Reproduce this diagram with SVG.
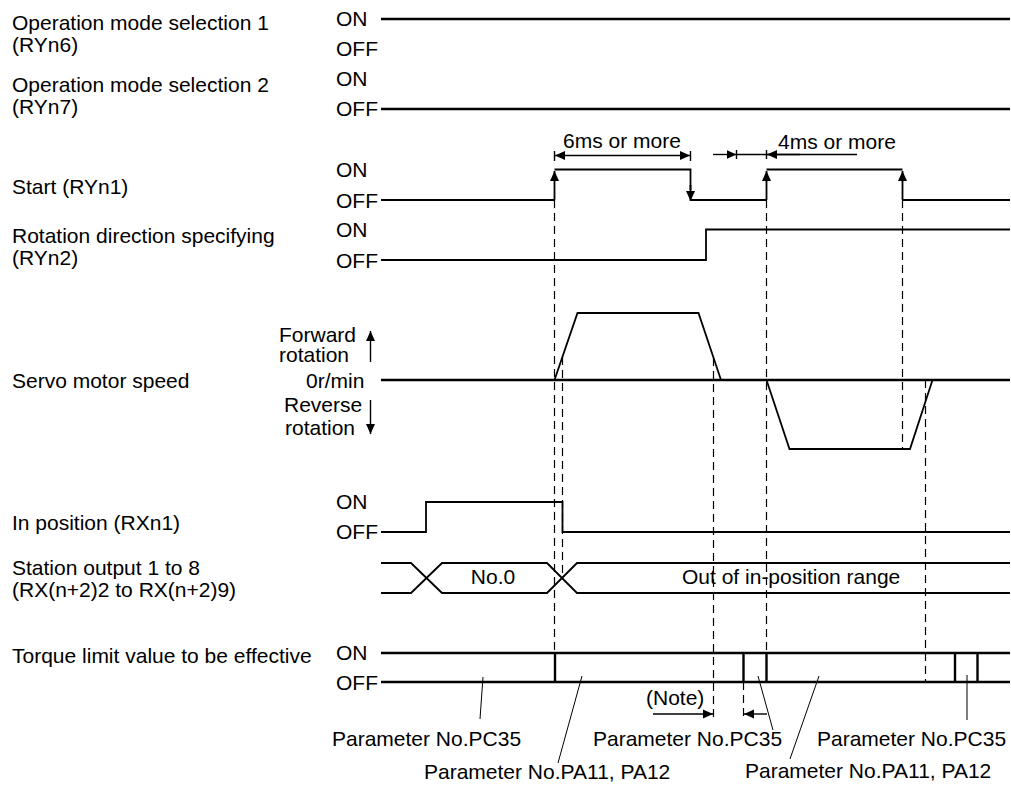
<svg xmlns="http://www.w3.org/2000/svg" width="1011" height="787" viewBox="0 0 1011 787">
<style>
text{font-family:"Liberation Sans",Arial,sans-serif;font-size:21px;fill:#000}
.sig{fill:none;stroke:#000;stroke-width:1.8}
.thk{fill:none;stroke:#000;stroke-width:2.4}
.dash{fill:none;stroke:#000;stroke-width:1.2;stroke-dasharray:8 5}
.thin{fill:none;stroke:#000;stroke-width:1}
.arr{fill:none;stroke:#000;stroke-width:1.4}
</style>
<defs>
<marker id="ah" markerUnits="userSpaceOnUse" markerWidth="11" markerHeight="10" refX="10" refY="5" orient="auto">
<path d="M0,0.5 L10,5 L0,9.5 z" fill="#000"/>
</marker>
</defs>
<rect width="1011" height="787" fill="#fff"/>

<g id="guides">
<line class="dash" x1="554.5" y1="200" x2="554.5" y2="653"/>
<line class="dash" x1="562.5" y1="357" x2="562.5" y2="578"/>
<line class="dash" x1="713.5" y1="358" x2="713.5" y2="718"/>
<line class="dash" x1="743.5" y1="682" x2="743.5" y2="718"/>
<line class="dash" x1="766.5" y1="200" x2="766.5" y2="653"/>
<line class="dash" x1="902.5" y1="200" x2="902.5" y2="449"/>
<line class="dash" x1="925.5" y1="380" x2="925.5" y2="682"/>
</g>

<g id="mode1">
<text x="12" y="30">Operation mode selection 1</text>
<text x="12" y="52">(RYn6)</text>
<text x="336" y="26">ON</text>
<text x="336" y="56">OFF</text>
<line class="thk" x1="381" y1="19" x2="1010" y2="19"/>
</g>

<g id="mode2">
<text x="12" y="92">Operation mode selection 2</text>
<text x="12" y="114">(RYn7)</text>
<text x="336" y="86">ON</text>
<text x="336" y="116">OFF</text>
<line class="thk" x1="381" y1="109" x2="1010" y2="109"/>
</g>

<g id="start">
<text x="12" y="194">Start (RYn1)</text>
<text x="336" y="177">ON</text>
<text x="336" y="208">OFF</text>
<polyline class="sig" points="381,200 554.5,200"/>
<line class="sig" x1="554.5" y1="200" x2="554.5" y2="171" marker-end="url(#ah)"/>
<polyline class="sig" points="554.5,169.5 690.5,169.5 690.5,190"/>
<line class="sig" x1="690.5" y1="185" x2="690.5" y2="201" marker-end="url(#ah)"/>
<polyline class="sig" points="690.5,200 766.5,200"/>
<line class="sig" x1="766.5" y1="200" x2="766.5" y2="171" marker-end="url(#ah)"/>
<polyline class="sig" points="766.5,169.5 902.5,169.5"/>
<line class="sig" x1="902.5" y1="200" x2="902.5" y2="171" marker-end="url(#ah)"/>
<polyline class="sig" points="902.5,200 1010,200"/>
<text x="563" y="148">6ms or more</text>
<line class="arr" x1="622" y1="155.5" x2="555" y2="155.5" marker-end="url(#ah)"/>
<line class="arr" x1="622" y1="155.5" x2="690" y2="155.5" marker-end="url(#ah)"/>
<line class="arr" x1="554.5" y1="151" x2="554.5" y2="161"/>
<line class="arr" x1="690.5" y1="151" x2="690.5" y2="161"/>
<text x="778" y="149">4ms or more</text>
<line class="arr" x1="713" y1="154.5" x2="736.5" y2="154.5" marker-end="url(#ah)"/>
<line class="arr" x1="736.5" y1="154.5" x2="857" y2="154.5"/>
<line class="arr" x1="800" y1="154.5" x2="767" y2="154.5" marker-end="url(#ah)"/>
<line class="arr" x1="736.5" y1="150" x2="736.5" y2="159"/>
<line class="arr" x1="766.5" y1="150" x2="766.5" y2="159"/>
</g>

<g id="rotation">
<text x="12" y="243">Rotation direction specifying</text>
<text x="12" y="265">(RYn2)</text>
<text x="336" y="237">ON</text>
<text x="336" y="268">OFF</text>
<polyline class="sig" points="381,260 706,260 706,229.5 1010,229.5"/>
</g>

<g id="speed">
<text x="12" y="388">Servo motor speed</text>
<text x="279" y="342">Forward</text>
<text x="279" y="362">rotation</text>
<text x="306" y="388">0r/min</text>
<text x="284" y="412">Reverse</text>
<text x="285" y="435">rotation</text>
<line class="arr" x1="370.5" y1="362" x2="370.5" y2="331" marker-end="url(#ah)"/>
<line class="arr" x1="370.5" y1="400" x2="370.5" y2="434" marker-end="url(#ah)"/>
<line class="thk" x1="381" y1="380" x2="1010" y2="380"/>
<polyline class="sig" points="554.5,380 577.5,313 698.5,313 721,380"/>
<polyline class="sig" points="766.5,380 789.5,449 910,449 932.5,380"/>
</g>

<g id="inpos">
<text x="12" y="530">In position (RXn1)</text>
<text x="336" y="509">ON</text>
<text x="336" y="539">OFF</text>
<polyline class="sig" points="381,532 426,532 426,502 562.5,502 562.5,532 1010,532"/>
</g>

<g id="station">
<text x="12" y="575">Station output 1 to 8</text>
<text x="12" y="597">(RX(n+2)2 to RX(n+2)9)</text>
<polyline class="sig" points="381,563 411,563 442,593 547,593 577,563 1010,563"/>
<polyline class="sig" points="381,593 411,593 442,563 547,563 577,593 1010,593"/>
<text x="493" y="584" text-anchor="middle">No.0</text>
<text x="682" y="584">Out of in-position range</text>
</g>

<g id="torque">
<text x="12" y="663">Torque limit value to be effective</text>
<text x="336" y="660">ON</text>
<text x="336" y="690">OFF</text>
<line class="thk" x1="381" y1="653" x2="1010" y2="653"/>
<line class="thk" x1="381" y1="682" x2="1010" y2="682"/>
<line class="thk" x1="555" y1="653" x2="555" y2="682"/>
<line class="thk" x1="743.5" y1="653" x2="743.5" y2="682"/>
<line class="thk" x1="766.5" y1="653" x2="766.5" y2="682"/>
<line class="thk" x1="955" y1="653" x2="955" y2="682"/>
<line class="thk" x1="977.5" y1="653" x2="977.5" y2="682"/>
</g>

<g id="note">
<text x="646" y="705">(Note)</text>
<line class="arr" x1="653" y1="714" x2="713" y2="714" marker-end="url(#ah)"/>
<line class="arr" x1="767" y1="714" x2="744" y2="714" marker-end="url(#ah)"/>
</g>

<g id="params">
<text x="332" y="746">Parameter No.PC35</text>
<text x="424" y="779">Parameter No.PA11, PA12</text>
<text x="593" y="746">Parameter No.PC35</text>
<text x="745" y="778">Parameter No.PA11, PA12</text>
<text x="817" y="746">Parameter No.PC35</text>
<line class="thin" x1="480" y1="719" x2="483" y2="677"/>
<line class="thin" x1="558" y1="763" x2="582" y2="676"/>
<line class="thin" x1="773" y1="730" x2="758" y2="676"/>
<line class="thin" x1="790" y1="759" x2="819" y2="676"/>
<line class="thin" x1="967" y1="720" x2="967" y2="675"/>
</g>
</svg>
